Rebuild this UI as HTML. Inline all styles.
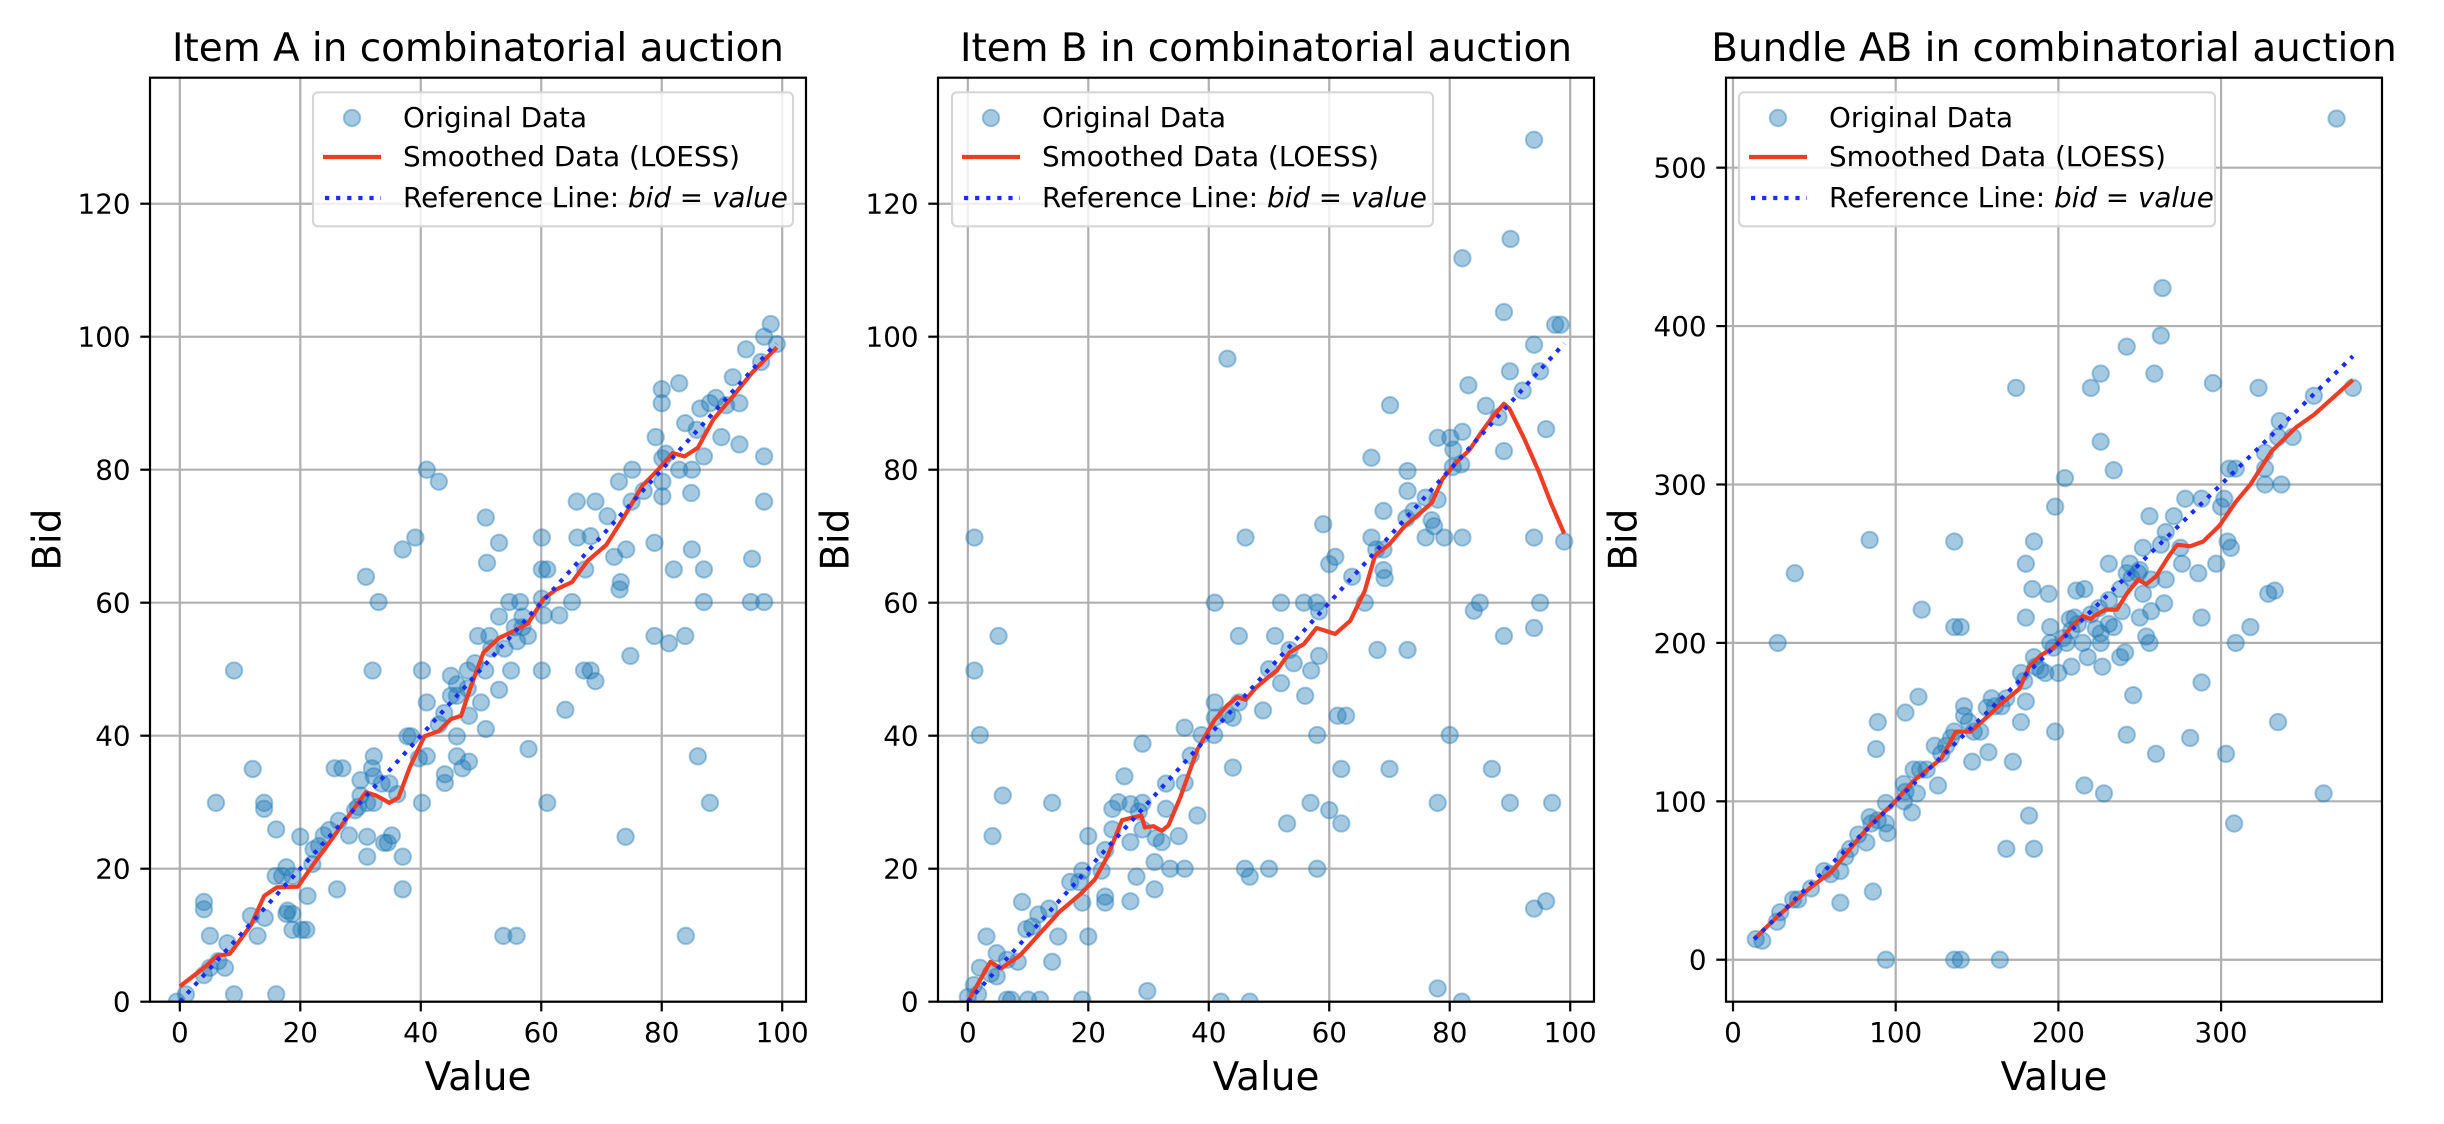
<!DOCTYPE html>
<html><head><meta charset="utf-8"><style>
html,body{margin:0;padding:0;background:#fff;}
svg{display:block;font-family:"DejaVu Sans","Liberation Sans",sans-serif;}
</style></head><body>
<svg id="fig" width="2444" height="1124" viewBox="0 0 2444 1124" xmlns="http://www.w3.org/2000/svg">
<rect x="0" y="0" width="2444" height="1124" fill="#fff"/>
</svg>
<script>
// ---------- Panel A data ----------
const aValues = [98.1,99.1,97,94,96.5,80,80,82.9,91.8,92.9,86.4,88,89,90.7,79,89.9,92.9,97,80.1,80.7,82.9,83.9,85.8,85,87,84.9,80.1,80.1,75.1,72.9,75,77,65.9,69,71,66,68.2,60.1,72.1,74.1,67.3,61,60.1,73,73.2,65.1,60.1,60.4,63,85,87,82,78.8,87,95,94.8,97,97,78.8,81.2,83.9,74.8,41,43,37,39.1,50.8,51,53,30.9,33,49.5,51.4,53,54.7,56.5,56.9,55.6,56.9,57.8,56,51.7,53.9,47.8,49,50.7,55,60.1,67.1,68.2,69,53,50,50.8,48,64,57.9,45,46,46,45,47.8,40.2,41,41,40.2,38.4,37.8,39.7,43,43.9,46,46,46.9,48,44,44,61,74,86,88,53.7,55.9,84,9,32,37,37,34.5,35.2,33.9,31.1,31.1,34.8,33.5,36.1,32.2,31.9,32.2,32.2,31.1,30,30,27,25.7,26.4,28.1,24.8,23.9,29.1,29.6,26.1,22.2,22,23.1,21.2,21,20.2,20,18.7,17.7,17,18.7,17.7,18.7,17.9,16,15.9,14,14,12.1,11.8,14.1,12.9,6,4,4,5,9,16,6.4,7.5,5,7.9,4,1,-0.5];
const aBids = [101.9,98.9,100,98.1,96.2,92.1,90,93,93.9,90,89.2,90,90.8,89.7,84.9,84.9,83.8,82,81.7,82.4,80,87,86,80,82,76.5,78.2,76,80,78.2,75.2,76.8,75.2,75.2,73,69.8,70,69.8,66.9,68,65,65,65,62,63.1,60.1,60.6,58.1,58.1,68,65,65,69,60.1,66.6,60.1,60.1,75.2,55,53.9,55,52,80,78.2,68,69.8,72.8,66,69,63.9,60.1,55,55,57.9,60.1,60.1,57.9,56.3,56.3,55,54.2,53.1,53.1,49.8,50.9,49.8,49.8,49.8,49.8,49.8,48.2,46.9,45,41,43,43.9,38,49,47.7,46,46,47.1,49.8,45,36.9,29.9,39.9,39.9,36.6,41.7,43.4,39.9,36.9,35.1,36.1,34.2,32.9,29.9,24.8,36.9,29.9,9.9,9.9,9.9,49.8,49.8,16.9,21.8,23.9,25,23.9,21.8,24.8,32.8,32.8,31.2,36.9,35.1,33.9,29.9,29.9,31,33.3,35.1,35.1,27.2,25,25.8,25,28.8,29.3,16.9,22.9,20.7,23.4,15.9,10.8,10.8,24.8,18.9,20.2,18.9,10.8,13.2,13.2,13.7,25.9,18.9,29.9,29,35,12.9,12.6,9.9,29.9,15,13.9,9.9,1.1,1.1,6.1,5.1,5.1,8.8,4,1.1,0];
const aSmoothX = [0,4,6.2,8.3,11.8,14,16.1,19.6,22.2,24.8,27.4,30.9,32.6,34.8,36.3,38.2,40.6,43,45,46.7,48.2,50.4,53,55.6,57.8,60.4,62.5,65.1,67.7,70.8,73.8,76.8,79.4,81.8,83.8,86,88.6,91.6,95,99.1];
const aSmoothY = [2.3,5.1,6.9,7.2,11.5,15.9,17.2,17.3,20.7,23.9,27.2,31.5,31,29.9,30.7,35.3,39.9,40.7,42.5,43,47.1,52.5,54.7,55.8,56.9,60.6,62,63.1,66.3,68.7,73,77.6,80,82.5,82,83.3,87.6,90.8,94.6,98.4];

// ---------- Panel B data ----------
const bValues = [94,90.1,82.1,89,97.5,98.4,94,95,90,92.1,83.1,70.1,43.1,86,88.1,96,89,78,80.1,82.1,67,80.6,81.9,80.5,73,73,69,76,78,77,77.4,74,72.8,59,46.1,1.1,76,79.1,82.1,94,99,67,67.8,69,61,60,69,69.2,63.8,41,52,55.8,57.9,58.3,65.9,85,84,95,5.1,45,51,89,94,53.4,54.1,58.3,68,73,1.1,50,52,57,56,41,41,43,44,45,49,61.4,62.8,36,38.8,40.9,2,58,80,29,37,44,62,70,87,26,36,32.9,5.8,14,24,25,27,29,28.4,32.9,38.1,56.9,60,62,78,90,97,53,24,27,29,31.2,32.2,35,4.1,20,22.8,22.2,19,17,18.5,31,33.6,36,46,50,58,46.8,28,31,22.8,22.8,19,27,9,11.7,13.5,10.7,9.7,15,20,3.1,94,96,4.8,6.5,8.3,2,3.8,4.8,14,1,0,1.7,6.5,7.2,10,12,19,29.8,42,46.8,78,82];
const bBids = [129.6,114.7,111.8,103.7,101.8,101.8,98.8,94.8,94.8,91.9,92.7,89.7,96.7,89.6,87.9,86.1,82.8,84.8,84.8,85.7,81.8,83,80.8,80.4,79.8,76.8,73.8,75.8,75.5,72.4,71.5,73.8,72.7,71.8,69.8,69.8,69.8,69.8,69.8,69.8,69.2,69.8,68,68,66.9,65.8,64.9,63.7,63.9,60,60,60,60,58.7,60,60,58.8,60,55,55,55,55,56.2,52.9,50.9,52,52.9,52.9,49.8,50,47.9,49.8,46,45,42.7,43.2,42.7,45,43.8,43,43,41.2,40.1,40.1,40.1,40.1,40.1,38.8,37,35.2,35,35,35,33.9,32.9,32.8,31,29.9,29,30,29.7,29.9,28.6,29,28,29.9,28.8,26.8,29.9,29.9,29.9,26.8,25.9,24,25.9,24.6,24,24.9,24.9,24.9,22.8,19.7,19.7,18,18,21,20,20,20,20,20,18.8,18.8,16.9,15.8,14.9,14.9,15.1,15,13.1,14,11.3,10.9,9.8,9.8,9.8,14,15.1,7.3,6.3,6,5.1,4.2,3.8,6,2.5,0.7,1.1,0.3,0.3,0.3,0.3,0.3,1.6,0,0,2,0];
const bSmoothX = [0,3.75,5.5,8.6,11.7,15.2,18.7,21.1,23.2,25.6,28.8,29.4,30.8,32.2,33.3,35.3,38.1,40.9,43,44.7,46.1,47.8,50,51.3,53.4,55.8,57.9,59.3,61,63.5,65.9,67.6,70,72.5,74.6,77,78.8,81.2,83.3,85.3,87.4,89,89.9,92.3,94.7,96.8,99];
const bSmoothY = [0,6,5,6.9,10,13.5,16.2,18.4,21.9,27.3,28,26.2,26.4,25.7,26.5,30.8,37.9,42.3,44.5,45.8,45.4,47.2,48.9,49.8,52.5,53.8,56.2,55.8,55.3,57.3,61.8,67.1,68.8,71.5,73.1,75,78.6,81.2,83,85.7,88.3,89.9,89.2,84.8,79.9,75,70.4];

// ---------- Panel AB data ----------
const cValues = [371,264,263,242,226,259,174,220,295,323,357,381,344,336,335,226,234,204,305,309,327,327,327,337,302,300,278,288,271,256,198,266,263,275,276,297,304,306,252,244,231,242,249,257,266,286,180,185,136,84,38,216,211,184,194,252,265,257,239,329,333,250,234,318,288,180,195,207,210,223,226,226,254,256,309,116,136,140,27.5,215,205,195,218,238,227,208,200,192,185,186,189,177,179,180,177,172,198,216,228,242,246,281,260,288,303,308,335,363,159,161,165,168,156,142,142,145,148,152,147,157,136,134,131,128,124,115,111,119,113,106,105,110,105,94,94,95,89,85,84,82,77,72,69,66,60,56,66,48,40,37,29,27,14,18,86,89,88,106,114,126,94,136,140,164,168,185,182,231,241,197,203,208,212,220,225,231,238,245,250];
const cBids = [531,424,394,387,370,370,361,361,364,361,356,361,330,340,330,327,309,304,310,310,320,310,300,300,291,286,291,291,280,280,286,270,262,260,250,250,264,260,260,250,250,244,244,240,240,244,250,264,264,265,244,234,233,234,231,231,225,220,220,231,233,216,210,210,216,216,210,215,216,209,206,200,204,200,200,221,210,210,200,200,200,200,191,191,185,185,181,181,191,185,183,181,176,163,150,125,144,110,105,142,167,140,130,175,130,86,150,105,165,160,160,165,159,160,154,150,144,144,125,131,144,140,135,130,135,120,120,120,105,106,111,93,100,99,86,80,88,86,90,74,79,70,65,56,54,56,36,45,38,38,30,24,13,12,43,150,133,156,166,110,0,0,0,0,70,70,91,212,194,197,203,208,212,218,222,227,234,241,246];
const cSmoothX = [13,27,47,61,72,85,98,111,128,137,146,157,163,176,182,189,197,208,215,220,222,229,236,242,249,254,260,268,273,281,289,299,309,318,331,346,357,381];
const cSmoothY = [13,27,45,56,70,86,98,113,127,144,144,154,160,171,185,192,197,210,217,215,217,221,221,231,240,237,242,255,262,261,264,274,289,300,321,336,344,366];

// ---------- ticks ----------
const abXTicks = [0,20,40,60,80,100];
const abYTicks = [0,20,40,60,80,100,120];
const cXTicks = [0,100,200,300];
const cYTicks = [0,100,200,300,400,500];
const titles = ["Item A in combinatorial auction","Item B in combinatorial auction","Bundle AB in combinatorial auction"];

const NS = "http://www.w3.org/2000/svg";
const svg = document.getElementById("fig");
function mk(tag, attrs, parent){ const e=document.createElementNS(NS,tag); for(const k in attrs) e.setAttribute(k,attrs[k]); (parent||svg).appendChild(e); return e; }

const TOP=77.7, BOT=1001.7, R=8.2;
const panels = [
  {key:"a", left:150, right:806, xmin:-4.95, xmax:103.95, ymin:0, ymax:138.95, xs:aValues, ys:aBids, sx:aSmoothX, sy:aSmoothY, xt:abXTicks, yt:abYTicks, ref:[0,99], legLeft:313, legW:480},
  {key:"b", left:938, right:1594, xmin:-4.95, xmax:103.95, ymin:0, ymax:138.95, xs:bValues, ys:bBids, sx:bSmoothX, sy:bSmoothY, xt:abXTicks, yt:abYTicks, ref:[0,99], legLeft:952, legW:481},
  {key:"c", left:1726, right:2382, xmin:-4.3, xmax:398.9, ymin:-26.5, ymax:556.8, xs:cValues, ys:cBids, sx:cSmoothX, sy:cSmoothY, xt:cXTicks, yt:cYTicks, ref:[13,381], legLeft:1739, legW:476}
];

panels.forEach((p, i) => {
  const g = mk("g", {});
  
  
  const X = v => p.left + (v - p.xmin) / (p.xmax - p.xmin) * (p.right - p.left);
  const Y = v => BOT - (v - p.ymin) / (p.ymax - p.ymin) * (BOT - TOP);
  const clipId = "clip" + i;
  const cp = mk("clipPath", {id: clipId}, g);
  mk("rect", {x:p.left, y:TOP, width:p.right-p.left, height:BOT-TOP}, cp);

  const grid = mk("g", {stroke:"#b0b0b0", "stroke-width":2.2}, g);
  
  
  p.xt.forEach(t => mk("line", {x1:X(t), x2:X(t), y1:TOP, y2:BOT}, grid));
  p.yt.forEach(t => mk("line", {x1:p.left, x2:p.right, y1:Y(t), y2:Y(t)}, grid));

  const sc = mk("g", {"clip-path":"url(#"+clipId+")"}, g);
  
  
  p.xs.forEach((v, k) => {
    const c = mk("circle", {cx:X(v), cy:Y(p.ys[k]), r:R, fill:"rgba(31,119,180,0.4)", stroke:"rgba(31,119,180,0.4)", "stroke-width":2}, sc);
    
    
  });

  const sm = mk("polyline", {points:p.sx.map((v,k)=>X(v)+","+Y(p.sy[k])).join(" "), fill:"none", stroke:"#ee3d25", "stroke-width":4.2, "stroke-linejoin":"round", "clip-path":"url(#"+clipId+")"}, g);
  
  

  const rf = mk("line", {x1:X(p.ref[0]), y1:Y(p.ref[0]), x2:X(p.ref[1]), y2:Y(p.ref[1]), stroke:"#1a2cff", "stroke-width":4.2, "stroke-dasharray":"4.2 6.9", "clip-path":"url(#"+clipId+")"}, g);
  
  

  const fr = mk("rect", {x:p.left, y:TOP, width:p.right-p.left, height:BOT-TOP, fill:"none", stroke:"#000", "stroke-width":2.2}, g);
  
  

  const tk = mk("g", {}, g);
  
  
  p.xt.forEach(t => {
    mk("line", {x1:X(t), x2:X(t), y1:BOT, y2:BOT+9.7, stroke:"#000", "stroke-width":2.2}, tk);
    const tx = mk("text", {x:X(t), y:1042, "font-size":27.8, "text-anchor":"middle", fill:"#000"}, tk);
    tx.textContent = t;
  });
  const ty = mk("g", {}, g);
  
  
  p.yt.forEach(t => {
    mk("line", {x1:p.left-9.7, x2:p.left, y1:Y(t), y2:Y(t), stroke:"#000", "stroke-width":2.2}, ty);
    const tx = mk("text", {x:p.left-19.4, y:Y(t)+10, "font-size":27.8, "text-anchor":"end", fill:"#000"}, ty);
    tx.textContent = t;
  });

  const tt = mk("text", {x:(p.left+p.right)/2, y:61, "font-size":38.9, "text-anchor":"middle", fill:"#000"}, g);
  
  
  tt.textContent = titles[i];
  const xl = mk("text", {x:(p.left+p.right)/2, y:1090, "font-size":38.9, "text-anchor":"middle", fill:"#000"}, g);
  
  
  xl.textContent = "Value";
  const yx = p.left - 102, yy = (TOP+BOT)/2;
  const yl = mk("text", {x:yx, y:yy, "font-size":38.9, "text-anchor":"middle", "dominant-baseline":"central", transform:"rotate(-90 "+yx+" "+yy+")", fill:"#000"}, g);
  
  
  yl.textContent = "Bid";

  const lg = mk("g", {}, g);
  
  
  const L = p.legLeft;
  mk("rect", {x:L, y:92.3, width:p.legW, height:134, rx:5, fill:"rgba(255,255,255,0.8)", stroke:"#d6d6d6", "stroke-width":2.2}, lg);
  const e1 = mk("g", {}, lg);
  
  
  mk("circle", {cx:L+39, cy:118, r:R, fill:"rgba(31,119,180,0.4)", stroke:"rgba(31,119,180,0.4)", "stroke-width":2}, e1);
  const t1 = mk("text", {x:L+90, y:127, "font-size":27.8, fill:"#000"}, e1);
  t1.textContent = "Original Data";
  const e2 = mk("g", {}, lg);
  
  
  mk("line", {x1:L+10, x2:L+68, y1:157, y2:157, stroke:"#ee3d25", "stroke-width":4.2}, e2);
  const t2 = mk("text", {x:L+90, y:166, "font-size":27.8, fill:"#000"}, e2);
  t2.textContent = "Smoothed Data (LOESS)";
  const e3 = mk("g", {}, lg);
  
  
  mk("line", {x1:L+12, x2:L+68, y1:198, y2:198, stroke:"#1a2cff", "stroke-width":4.2, "stroke-dasharray":"4.2 6.9"}, e3);
  const t3 = mk("text", {x:L+90, y:207, "font-size":27.8, fill:"#000"}, e3);
  t3.innerHTML = 'Reference Line: <tspan font-style="italic">bid</tspan> = <tspan font-style="italic">value</tspan>';
});
</script>
</body></html>
